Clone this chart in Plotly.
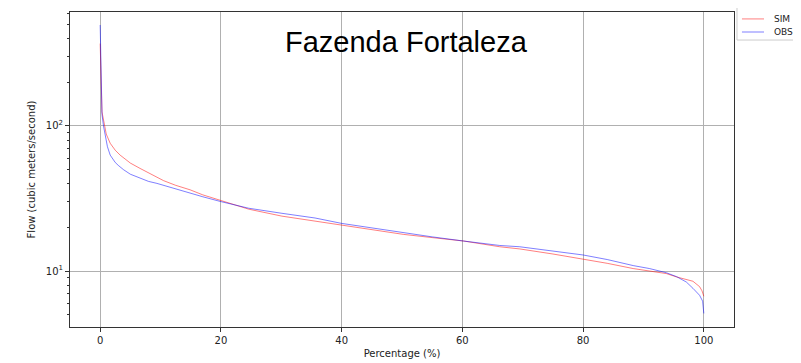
import plotly.graph_objects as go

# ---- data ----
sim_pct = [0, 0.13, 0.3, 0.75, 1.0, 1.66, 2.5, 3.3, 4.1, 5.0, 6.6, 8.0, 9.4, 10.5,
           12.5, 14.9, 17, 20, 24.6, 30.1, 35.6, 40, 45, 50.2, 55, 60.2, 66.2,
           69.5, 75, 80, 84, 88.3, 91, 93.8, 95.5, 97, 98.2, 99.3, 99.7, 100]
sim_flow = [370, 165, 125, 100, 88, 76, 68, 63, 59, 55.5, 51, 47.5, 44.5, 42,
            39, 36.3, 33.5, 30.5, 26.7, 23.9, 22.1, 20.7, 19.3, 17.9, 17.0, 16.1, 14.7,
            14.2, 13.1, 12.1, 11.3, 10.4, 10.0, 9.6, 9.1, 8.8, 8.5, 7.8, 7.3, 6.7]

obs_pct = [0, 0.05, 0.13, 0.3, 0.55, 0.83, 1.2, 1.66, 2.5, 3.0, 3.86, 5.0, 6.6, 8.0,
           9.4, 10.5, 12.5, 14.9, 17, 20, 24.6, 30.1, 35.6, 40, 45, 50.2, 55, 60.2,
           66.2, 69.5, 75, 80, 84, 88.3, 91, 93.8, 95.5, 97.1, 98.2, 99.3, 99.8, 100]
obs_flow = [497, 350, 165, 120, 100, 85, 72, 63, 56, 53.5, 50, 46.5, 43.5, 41.5,
            40.2, 39, 36.5, 34.4, 32.5, 30.1, 27.1, 25.0, 23.2, 21.3, 19.8, 18.4, 17.2, 16.1,
            15.0, 14.7, 13.7, 12.9, 12.0, 10.9, 10.4, 9.73, 9.14, 8.4, 7.6, 6.8, 6.2, 5.1]

x_ticks = [0, 20, 40, 60, 80, 100]
y_ticks = [10, 100]
y_ticktext = ["10<sup>1</sup>", "10<sup>2</sup>"]
y_minor = [5, 6, 7, 8, 9, 20, 30, 40, 50, 60, 70, 80, 90, 200, 300, 400, 500, 600]

series_names = ["SIM", "OBS"]
series_colors = ["rgba(255,0,0,0.5)", "rgba(0,0,255,0.5)"]
title_text = "Fazenda Fortaleza"

fig = go.Figure()
fig.add_trace(go.Scatter(x=sim_pct, y=sim_flow, mode="lines", name=series_names[0],
                         line=dict(color=series_colors[0], width=1)))
fig.add_trace(go.Scatter(x=obs_pct, y=obs_flow, mode="lines", name=series_names[1],
                         line=dict(color=series_colors[1], width=1)))

tickfont = dict(family="DejaVu Sans", size=10, color="#222")

# compact matplotlib-style legend outside the right edge (paper coordinates)
shapes = [dict(type="rect", xref="paper", yref="paper", x0=1.0045, x1=1.11,
               y0=0.911, y1=1.025, line=dict(color="#cccccc", width=1),
               fillcolor="white", layer="above")]
annots = [dict(text=title_text, x=0.5075, y=0.905, xref="paper", yref="paper",
               xanchor="center", yanchor="middle", showarrow=False,
               font=dict(family="Liberation Sans, Arial", size=29, color="black"))]
leg_y = [0.978, 0.9365]
for name, color, yy in zip(series_names, series_colors, leg_y):
    shapes.append(dict(type="line", xref="paper", yref="paper", x0=1.0120, x1=1.0452,
                       y0=yy, y1=yy, line=dict(color=color, width=1), layer="above"))
    annots.append(dict(text=name, x=1.0572, y=yy, xref="paper", yref="paper",
                       xanchor="left", yanchor="middle", showarrow=False,
                       font=dict(family="DejaVu Sans", size=9, color="#222")))

# page body has an 8px margin, so the figure is made smaller and margins shifted
fig.update_layout(
    width=785, height=355,
    margin=dict(l=62, r=59, t=4, b=36, autoexpand=False),
    paper_bgcolor="white", plot_bgcolor="white",
    font=dict(family="DejaVu Sans", size=10, color="#222"),
    showlegend=False,
    shapes=shapes,
    annotations=annots,
)

fig.update_xaxes(
    range=[-5, 105], tickvals=x_ticks, ticks="outside", ticklen=4, tickcolor="#333",
    showgrid=True, gridcolor="#b0b0b0", gridwidth=1, zeroline=False,
    showline=True, linecolor="#333", linewidth=1, mirror=True, automargin=False,
    tickfont=tickfont,
    title=dict(text="Percentage (%)", font=dict(family="DejaVu Sans", size=10, color="#222"), standoff=4),
)
fig.update_yaxes(
    type="log", range=[0.614, 2.786], tickvals=y_ticks, ticktext=y_ticktext,
    ticks="outside", ticklen=4, tickcolor="#333",
    minor=dict(tickvals=y_minor, ticks="outside", ticklen=2, tickcolor="#333", showgrid=False),
    showgrid=True, gridcolor="#b0b0b0", gridwidth=1, zeroline=False,
    showline=True, linecolor="#333", linewidth=1, mirror=True, automargin=False,
    tickfont=tickfont,
    title=dict(text="Flow (cubic meters/second)", font=dict(family="DejaVu Sans", size=10, color="#222"), standoff=8),
)

fig.write_html("out.html")
